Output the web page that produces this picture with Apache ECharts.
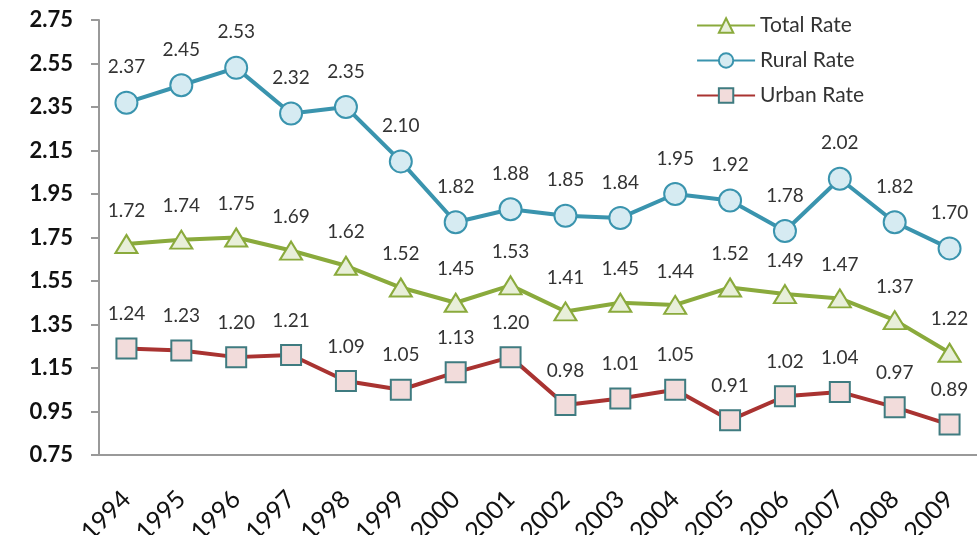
<!DOCTYPE html>
<html>
<head>
<meta charset="utf-8">
<script src="https://cdn.jsdelivr.net/npm/echarts@6/dist/echarts.min.js"></script>
<style>
html,body{margin:0;padding:0;background:#fff;}
#chart{width:977px;height:535px;}
</style>
</head>
<body>
<div id="chart"></div>
<script>
// Years on the category axis
const years = ['1994','1995','1996','1997','1998','1999','2000','2001','2002','2003','2004','2005','2006','2007','2008','2009'];
// Rates per year
const totalRate = [1.72, 1.74, 1.75, 1.69, 1.62, 1.52, 1.45, 1.53, 1.41, 1.45, 1.44, 1.52, 1.49, 1.47, 1.37, 1.22];
const ruralRate = [2.37, 2.45, 2.53, 2.32, 2.35, 2.10, 1.82, 1.88, 1.85, 1.84, 1.95, 1.92, 1.78, 2.02, 1.82, 1.70];
const urbanRate = [1.24, 1.23, 1.20, 1.21, 1.09, 1.05, 1.13, 1.20, 0.98, 1.01, 1.05, 0.91, 1.02, 1.04, 0.97, 0.89];
// Value axis range
const yMin = 0.75, yMax = 2.75, yStep = 0.2;

const font = 'Lato, "Open Sans", sans-serif';
const labelStyle = {
  show: true, position: 'top', distance: 14,
  fontFamily: font, fontSize: 19, color: '#333',
  formatter: p => p.value.toFixed(2)
};

const chart = echarts.init(document.getElementById('chart'));
chart.setOption({
  animation: false,
  backgroundColor: '#fff',
  grid: { left: 99, right: 0, top: 20, bottom: 80, containLabel: false, outerBoundsMode: 'none' },
  legend: {
    orient: 'vertical', right: 108, top: 10, itemGap: 14,
    itemWidth: 58, itemHeight: 18,
    textStyle: { fontFamily: font, fontSize: 21, color: '#333' },
    data: ['Total Rate', 'Rural Rate', 'Urban Rate']
  },
  xAxis: {
    type: 'category', data: years, boundaryGap: true,
    axisLine: { lineStyle: { color: '#999', width: 2 } },
    axisTick: { show: false },
    axisLabel: { rotate: 45, margin: 40, fontFamily: font, fontSize: 25, color: '#111' }
  },
  yAxis: {
    type: 'value', min: yMin, max: yMax, interval: yStep,
    splitLine: { show: false },
    axisLine: { show: true, lineStyle: { color: '#999', width: 2 } },
    axisTick: { show: true, length: 8, lineStyle: { color: '#999', width: 2 } },
    axisLabel: { margin: 26, fontFamily: font, fontSize: 22, fontWeight: 'bold', color: '#111',
      formatter: v => v.toFixed(2) }
  },
  series: [
    {
      name: 'Total Rate', type: 'line', data: totalRate,
      symbol: 'triangle', symbolSize: [22, 18],
      lineStyle: { color: '#8AAA3C', width: 4 },
      itemStyle: { color: '#E8EFD9', borderColor: '#8AAA3C', borderWidth: 2 },
      label: labelStyle
    },
    {
      name: 'Rural Rate', type: 'line', data: ruralRate,
      symbol: 'circle', symbolSize: 22,
      lineStyle: { color: '#3A94AE', width: 4 },
      itemStyle: { color: '#D6EBF2', borderColor: '#3A94AE', borderWidth: 2 },
      label: labelStyle
    },
    {
      name: 'Urban Rate', type: 'line', data: urbanRate,
      symbol: 'rect', symbolSize: 20,
      lineStyle: { color: '#A93331', width: 4 },
      itemStyle: { color: '#F2DCDB', borderColor: '#3F7B80', borderWidth: 2 },
      label: labelStyle
    }
  ]
});
</script>
</body>
</html>
